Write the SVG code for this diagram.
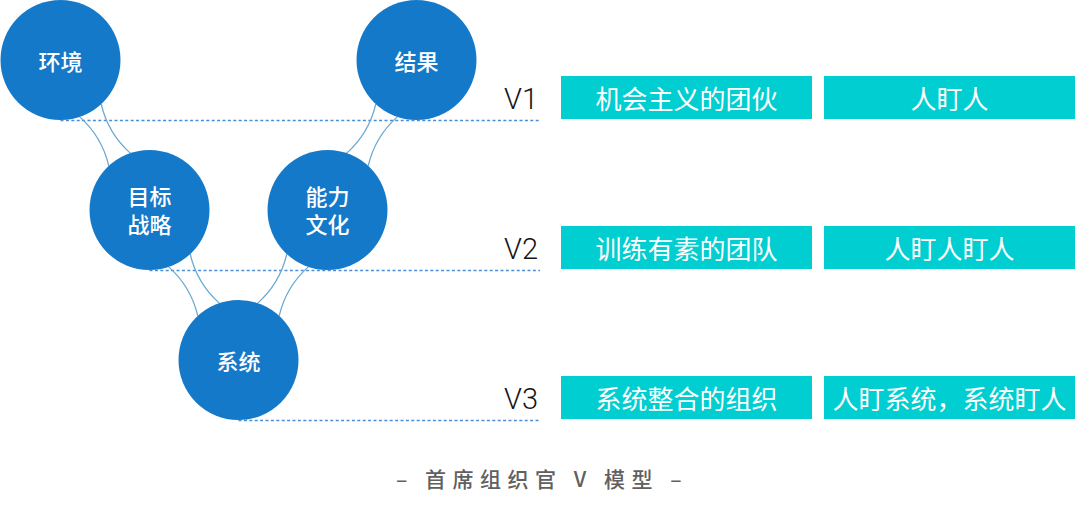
<svg xmlns="http://www.w3.org/2000/svg" width="1080" height="510" viewBox="0 0 1080 510">
  <style>
    .node circle { fill: #1479c9; }
    .node text { fill: #ffffff; font-family: "Noto Sans CJK SC", "Noto Sans", sans-serif; font-size: 22px; font-weight: 500; text-anchor: middle; }
    .link { fill: none; stroke: #6aa8d2; stroke-width: 1.3; }
    .guide { fill: none; stroke: #4a8fd6; stroke-width: 1.4; stroke-dasharray: 3 2.4; }
    .vlab { fill: #151515; font-family: Roboto, "Liberation Sans", sans-serif; font-weight: 300; font-size: 29px; text-anchor: end; }
    .box rect { fill: #00ced1; }
    .box text { fill: #ffffff; font-family: "Noto Sans CJK SC", "Noto Sans", sans-serif; font-size: 26px; text-anchor: middle; dominant-baseline: central; }
    .caption { fill: #606060; font-family: "Noto Sans CJK SC", "Noto Sans", sans-serif; font-size: 21px; font-weight: 500; text-anchor: middle; letter-spacing: 6.5px; }
  </style>
  <defs>
    <g id="pair">
      <path d="M58.7,-12.5 Q87.2,-3.5 115.7,-12.5"/>
      <path d="M58.7,12.5 Q87.2,3.5 115.7,12.5"/>
    </g>
  </defs>

  <g id="guides">
    <line class="guide" x1="60.5" y1="120.5" x2="540" y2="120.5"/>
    <line class="guide" x1="149.5" y1="270.5" x2="540" y2="270.5"/>
    <line class="guide" x1="238.5" y1="420.5" x2="540" y2="420.5"/>
  </g>

  <g id="connectors" class="link">
    <use href="#pair" transform="translate(60.5,60) rotate(59.32)"/>
    <use href="#pair" transform="translate(149.5,210) rotate(59.32)"/>
    <use href="#pair" transform="translate(238.5,360) rotate(-59.32)"/>
    <use href="#pair" transform="translate(327.5,210) rotate(-59.32)"/>
  </g>

  <g id="node-huanjing" class="node">
    <circle cx="60.5" cy="60" r="60"/>
    <text x="60.5" y="70">环境</text>
  </g>
  <g id="node-mubiao" class="node">
    <circle cx="149.5" cy="210" r="60"/>
    <text x="149.5" y="205">目标<tspan x="149.5" dy="27.5">战略</tspan></text>
  </g>
  <g id="node-xitong" class="node">
    <circle cx="238.5" cy="360" r="60"/>
    <text x="238.5" y="370">系统</text>
  </g>
  <g id="node-nengli" class="node">
    <circle cx="327.5" cy="210" r="60"/>
    <text x="327.5" y="205">能力<tspan x="327.5" dy="27.5">文化</tspan></text>
  </g>
  <g id="node-jieguo" class="node">
    <circle cx="416.5" cy="60" r="60"/>
    <text x="416.5" y="70">结果</text>
  </g>

  <g id="levels">
    <text class="vlab" x="538" y="109">V1</text>
    <text class="vlab" x="538" y="259">V2</text>
    <text class="vlab" x="538" y="409">V3</text>
  </g>

  <g id="row-v1">
    <g class="box"><rect x="561" y="76" width="251" height="43"/><text x="686.5" y="97.5">机会主义的团伙</text></g>
    <g class="box"><rect x="824" y="76" width="251" height="43"/><text x="949.5" y="97.5">人盯人</text></g>
  </g>
  <g id="row-v2">
    <g class="box"><rect x="561" y="226" width="251" height="43"/><text x="686.5" y="247.5">训练有素的团队</text></g>
    <g class="box"><rect x="824" y="226" width="251" height="43"/><text x="949.5" y="247.5">人盯人盯人</text></g>
  </g>
  <g id="row-v3">
    <g class="box"><rect x="561" y="376" width="251" height="43"/><text x="686.5" y="397.5">系统整合的组织</text></g>
    <g class="box"><rect x="824" y="376" width="251" height="43"/><text x="949.5" y="397.5">人盯系统，系统盯人</text></g>
  </g>

  <text class="caption" x="542" y="487">– 首席组织官 V 模型 –</text>
</svg>
